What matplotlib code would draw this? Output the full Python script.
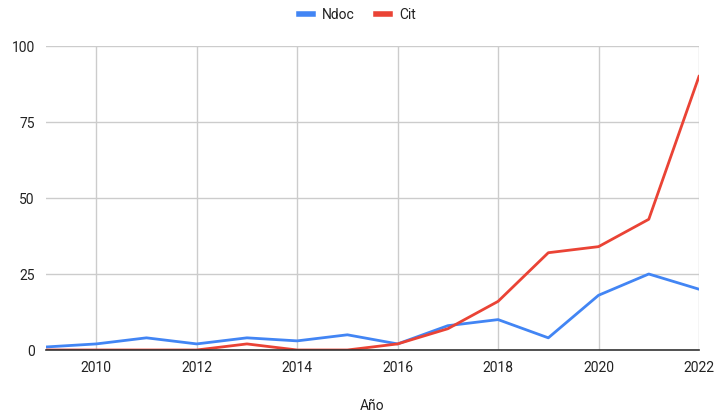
import matplotlib
matplotlib.use("Agg")
import matplotlib.pyplot as plt

plt.rcParams['font.family'] = ['Roboto', 'DejaVu Sans']

years = [2009, 2010, 2011, 2012, 2013, 2014, 2015, 2016, 2017, 2018, 2019, 2020, 2021, 2022]
ndoc = [1, 2, 4, 2, 4, 3, 5, 2, 8, 10, 4, 18, 25, 20]
cit = [0, 0, 0, 0, 2, 0, 0, 2, 7, 16, 32, 34, 43, 90]
xticks = [2010, 2012, 2014, 2016, 2018, 2020, 2022]
yticks = [0, 25, 50, 75, 100]

fig = plt.figure(figsize=(7.15, 4.13), dpi=100)
W, H = 715, 413
ax = fig.add_axes([46 / W, 1 - 350 / H, (699 - 46) / W, (350 - 46) / H])

ax.plot(years, ndoc, color='#4285F4', lw=2, label='Ndoc', solid_joinstyle='round')
ax.plot(years, cit, color='#EA4335', lw=2, label='Cit', solid_joinstyle='round')

ax.set_xlim(2009, 2022)
ax.set_ylim(0, 100)
ax.set_xticks(xticks)
ax.set_yticks(yticks)
ax.grid(True, color='#cccccc', lw=1)
ax.set_axisbelow(True)
for s in ['top', 'right', 'left']:
    ax.spines[s].set_visible(False)
ax.spines['bottom'].set_color('#333333')
ax.spines['bottom'].set_linewidth(1.2)
ax.tick_params(length=0, labelsize=10, colors='#222222', pad=8)
ax.set_xlabel('Año', fontsize=10, color='#222222', labelpad=17)

leg = fig.legend(loc='upper center', bbox_to_anchor=(0.5, 1.012), ncol=2, frameon=False,
                 fontsize=10, handlelength=1.0, handleheight=0.5, columnspacing=1.5,
                 handletextpad=0.7)
for line in leg.get_lines():
    line.set_linewidth(4)
for t in leg.get_texts():
    t.set_color('#222222')

fig.savefig('out.png', dpi=100)
